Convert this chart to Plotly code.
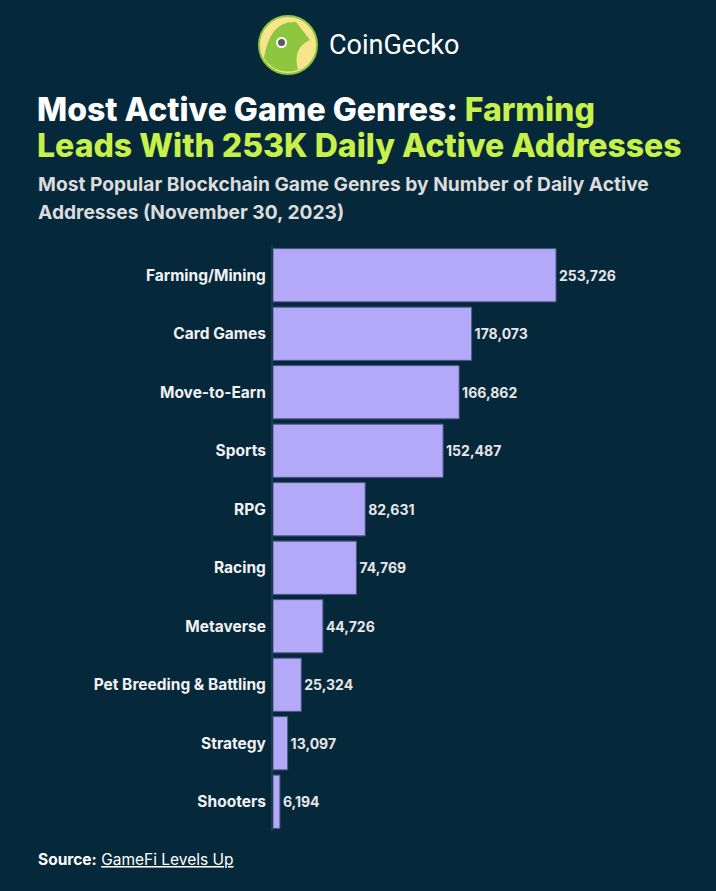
import plotly.graph_objects as go

genres = ["Farming/Mining", "Card Games", "Move-to-Earn", "Sports", "RPG", "Racing",
          "Metaverse", "Pet Breeding & Battling", "Strategy", "Shooters"]
addresses = [253726, 178073, 166862, 152487, 82631, 74769, 44726, 25324, 13097, 6194]
value_labels = [f"{v:,}" for v in addresses]

BG = "#06283b"
BAR = "#b4a9f9"

fig = go.Figure(go.Bar(
    x=addresses, y=genres, orientation="h",
    marker=dict(color=BAR, line=dict(color="#4d5a8a", width=1)),
    text=value_labels, textposition="outside", cliponaxis=False,
    textfont=dict(family="Inter", size=14, color="#e6e6e6", weight="bold"),
    hoverinfo="skip",
))

W, H = 716, 891
L, R, T, B = 273, 16, 246, 60
xmax = 253726 * (W - L - R) / 283.0

fig.update_layout(
    width=W, height=H, paper_bgcolor=BG, plot_bgcolor=BG,
    margin=dict(l=L, r=R, t=T, b=B),
    bargap=0.09, showlegend=False,
    xaxis=dict(range=[0, xmax], visible=False, fixedrange=True),
    yaxis=dict(autorange="reversed", showline=True, linecolor="#1d3c50", linewidth=2,
               showgrid=False, zeroline=False, ticks="", ticklabelstandoff=2,
               tickfont=dict(family="Inter", size=15.5, color="#f2f2f2", weight="bold")),
    font=dict(family="Inter"),
)


def px(x):
    return (x - L) / (W - L - R)


def py(y):
    return (H - B - y) / (H - T - B)


# Logo
fig.add_shape(type="circle", xref="paper", yref="paper", layer="above",
              x0=px(259), x1=px(317), y0=py(74), y1=py(16),
              fillcolor="#f6e58a", line=dict(color="#8dc63f", width=2))
fig.add_shape(type="path", xref="paper", yref="paper", layer="above",
              path=" ".join([
                  "M {:.4f},{:.4f}".format(px(264), py(58)),
                  "Q {:.4f},{:.4f} {:.4f},{:.4f}".format(px(270), py(20), px(296), py(22)),
                  "L {:.4f},{:.4f}".format(px(310), py(40)),
                  "Q {:.4f},{:.4f} {:.4f},{:.4f}".format(px(292), py(48), px(298), py(70)),
                  "Q {:.4f},{:.4f} {:.4f},{:.4f} Z".format(px(276), py(76), px(264), py(58)),
              ]),
              fillcolor="#8dc63f", line=dict(width=0))
fig.add_shape(type="circle", xref="paper", yref="paper", layer="above",
              x0=px(276), x1=px(287), y0=py(48), y1=py(37),
              fillcolor="#ffffff", line=dict(width=0))
fig.add_shape(type="circle", xref="paper", yref="paper", layer="above",
              x0=px(278), x1=px(285), y0=py(46), y1=py(39),
              fillcolor="#5a5a5a", line=dict(width=0))

fig.add_annotation(x=px(327), y=py(45), xref="paper", yref="paper", xanchor="left", yanchor="middle",
                   text="CoinGecko", showarrow=False,
                   font=dict(family="Roboto", size=27, color="#ffffff"))

title_lines = [
    (110, "Most Active Game Genres: <span style='color:#c8f04a'>Farming</span>"),
    (146, "<span style='color:#c8f04a'>Leads With 253K Daily Active Addresses</span>"),
]
for yy, txt in title_lines:
    fig.add_annotation(x=px(35), y=py(yy), xref="paper", yref="paper", xanchor="left", yanchor="middle",
                       align="left", showarrow=False, text=txt,
                       font=dict(family="Inter", size=32, color="#ffffff", weight=800))

subtitle_lines = [
    (184, "Most Popular Blockchain Game Genres by Number of Daily Active"),
    (212, "Addresses (November 30, 2023)"),
]
for yy, txt in subtitle_lines:
    fig.add_annotation(x=px(36), y=py(yy), xref="paper", yref="paper", xanchor="left", yanchor="middle",
                       align="left", showarrow=False, text=txt,
                       font=dict(family="Inter", size=19.2, color="#dcdcdc", weight="bold"))

fig.add_annotation(x=px(36), y=py(859), xref="paper", yref="paper", xanchor="left", yanchor="middle",
                   align="left", showarrow=False,
                   text="<b>Source:</b> <u>GameFi Levels Up</u>",
                   font=dict(family="Inter", size=15.5, color="#ffffff"))

fig.write_html("out.html")
